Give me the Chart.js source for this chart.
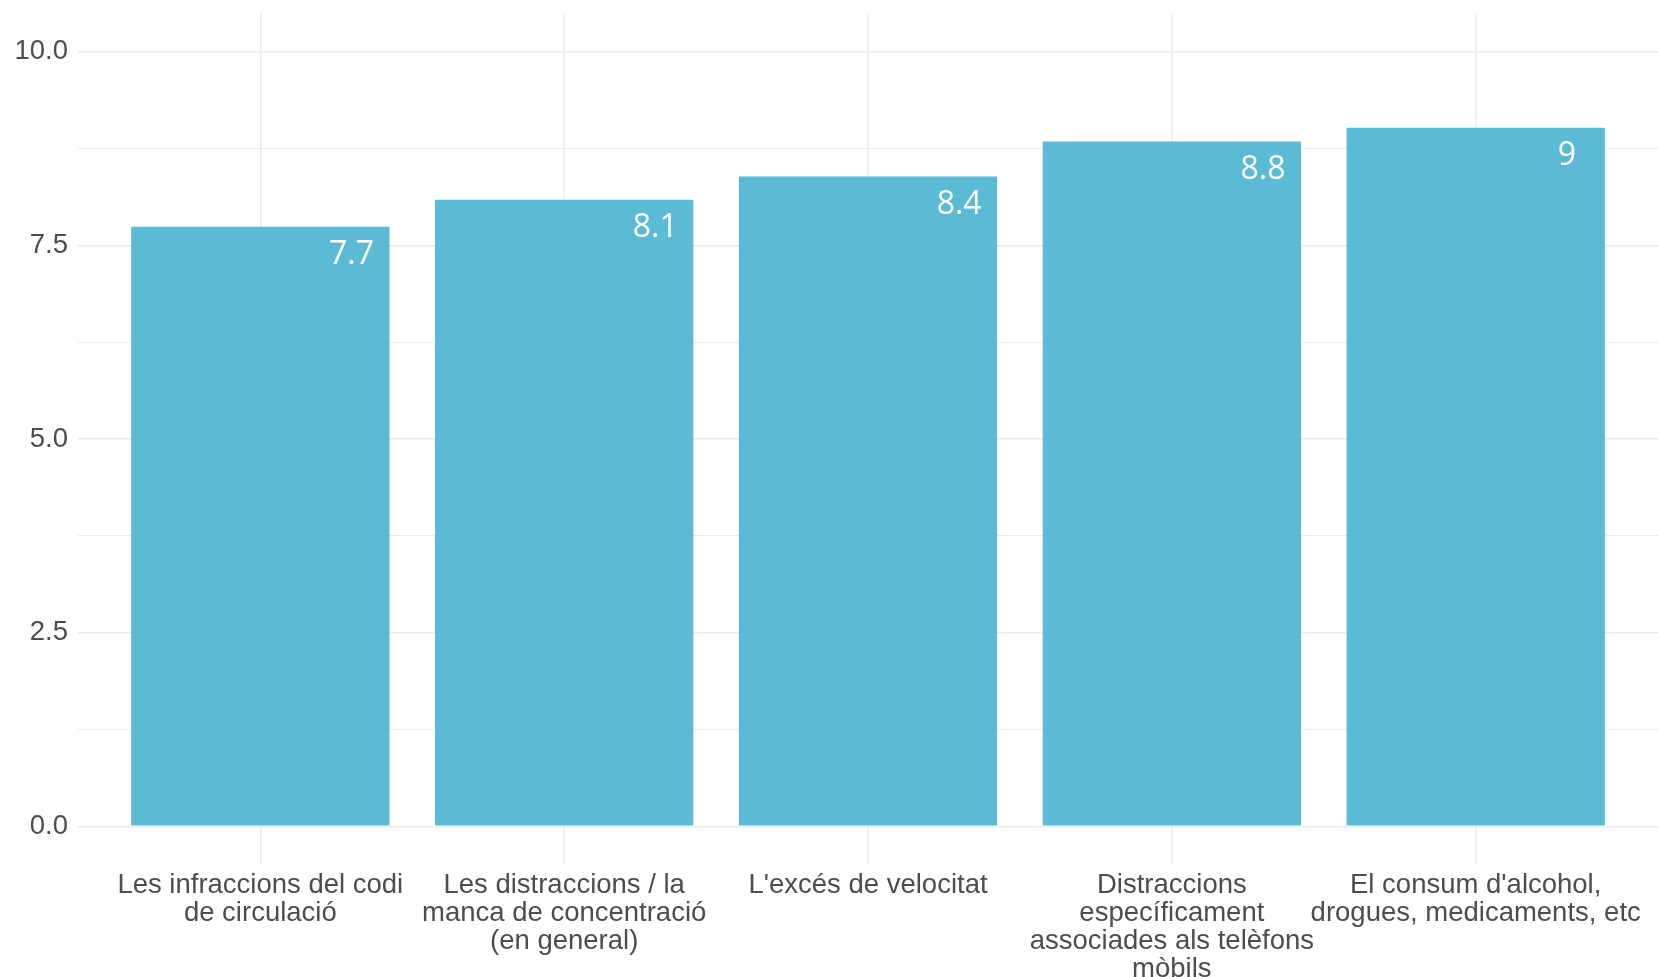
<!DOCTYPE html>
<html>
<head>
<meta charset="utf-8">
<script src="https://cdn.jsdelivr.net/npm/chart.js@4"></script>
<style>
  html, body { margin: 0; padding: 0; background: #fff; }
  #wrap { width: 1658px; height: 977px; }
</style>
</head>
<body>
<div id="wrap"><canvas id="chart" width="1658" height="977"></canvas></div>
<script>
const categories = [
  ["Les infraccions del codi", "de circulació"],
  ["Les distraccions / la", "manca de concentració", "(en general)"],
  ["L'excés de velocitat"],
  ["Distraccions", "específicament", "associades als telèfons", "mòbils"],
  ["El consum d'alcohol,", "drogues, medicaments, etc"]
];
const positions = [1, 2, 3, 4, 5];
const values = [7.74, 8.09, 8.39, 8.84, 9.02];
const yTicks = [0, 1.25, 2.5, 3.75, 5, 6.25, 7.5, 8.75, 10];

const barColor = '#5bbbd5';
const gridColor = '#ebebeb';
const textColor = '#4d4d4d';

// value labels in white, near the top right of each bar
const valueLabels = {
  id: 'valueLabels',
  afterDatasetsDraw(chart) {
    const ctx = chart.ctx;
    const xs = chart.scales.x;
    const meta = chart.getDatasetMeta(0);
    ctx.save();
    ctx.fillStyle = '#ffffff';
    ctx.font = '32px "Open Sans"';
    ctx.textAlign = 'center';
    ctx.textBaseline = 'middle';
    meta.data.forEach((bar, i) => {
      const x = xs.getPixelForValue(positions[i] + 0.3);
      const txt = String(Number(values[i].toFixed(1)));
      ctx.fillText(txt, x, bar.y + 28);
    });
    ctx.restore();
  }
};

let config = {
  type: 'bar',
  data: {
    datasets: [
      {
        data: positions.map((p, i) => ({ x: p, y: values[i] })),
        backgroundColor: barColor,
        borderWidth: 0,
        categoryPercentage: 1,
        barPercentage: 0.85,
      },
    ],
  },
  options: {
    responsive: false,
    animation: false,
    devicePixelRatio: 1,
    layout: { padding: { top: 13, right: 0, bottom: 0, left: 0 } },
    plugins: { legend: { display: false }, tooltip: { enabled: false } },
    scales: {
      x: {
        type: 'linear',
        min: 0.4,
        max: 5.6,
        offset: false,
        afterBuildTicks: (s) => { s.ticks = positions.map(v => ({ value: v })); },
        afterFit: (s) => { s.height = 112; s.paddingLeft = 0; s.paddingRight = 0; },
        border: { display: false },
        grid: { color: gridColor, lineWidth: 1.5, drawTicks: false, offset: false },
        ticks: {
          autoSkip: false,
          maxRotation: 0,
          padding: 6,
          color: textColor,
          font: { family: '"Liberation Sans", Arial, sans-serif', size: 27.5, lineHeight: 1.02 },
          callback: (v) => categories[v - 1] || '',
        },
      },
      y: {
        min: -0.5,
        max: 10.5,
        afterBuildTicks: (s) => { s.ticks = yTicks.map(v => ({ value: v })); },
        afterFit: (s) => { s.width = 78; s.paddingTop = 0; s.paddingBottom = 0; },
        border: { display: false },
        grid: {
          color: gridColor,
          lineWidth: (c) => (c.tick && c.tick.value % 2.5 === 0 ? 1.5 : 1),
          drawTicks: false,
        },
        ticks: {
          padding: 10,
          color: textColor,
          font: { family: '"Liberation Sans", Arial, sans-serif', size: 27.5 },
          callback: (v) => (v % 2.5 === 0 ? v.toFixed(1) : ''),
        },
      },
    },
  },
  plugins: [valueLabels],
};

let chart = new Chart(document.querySelector('#chart'), config);
</script>
</body>
</html>
